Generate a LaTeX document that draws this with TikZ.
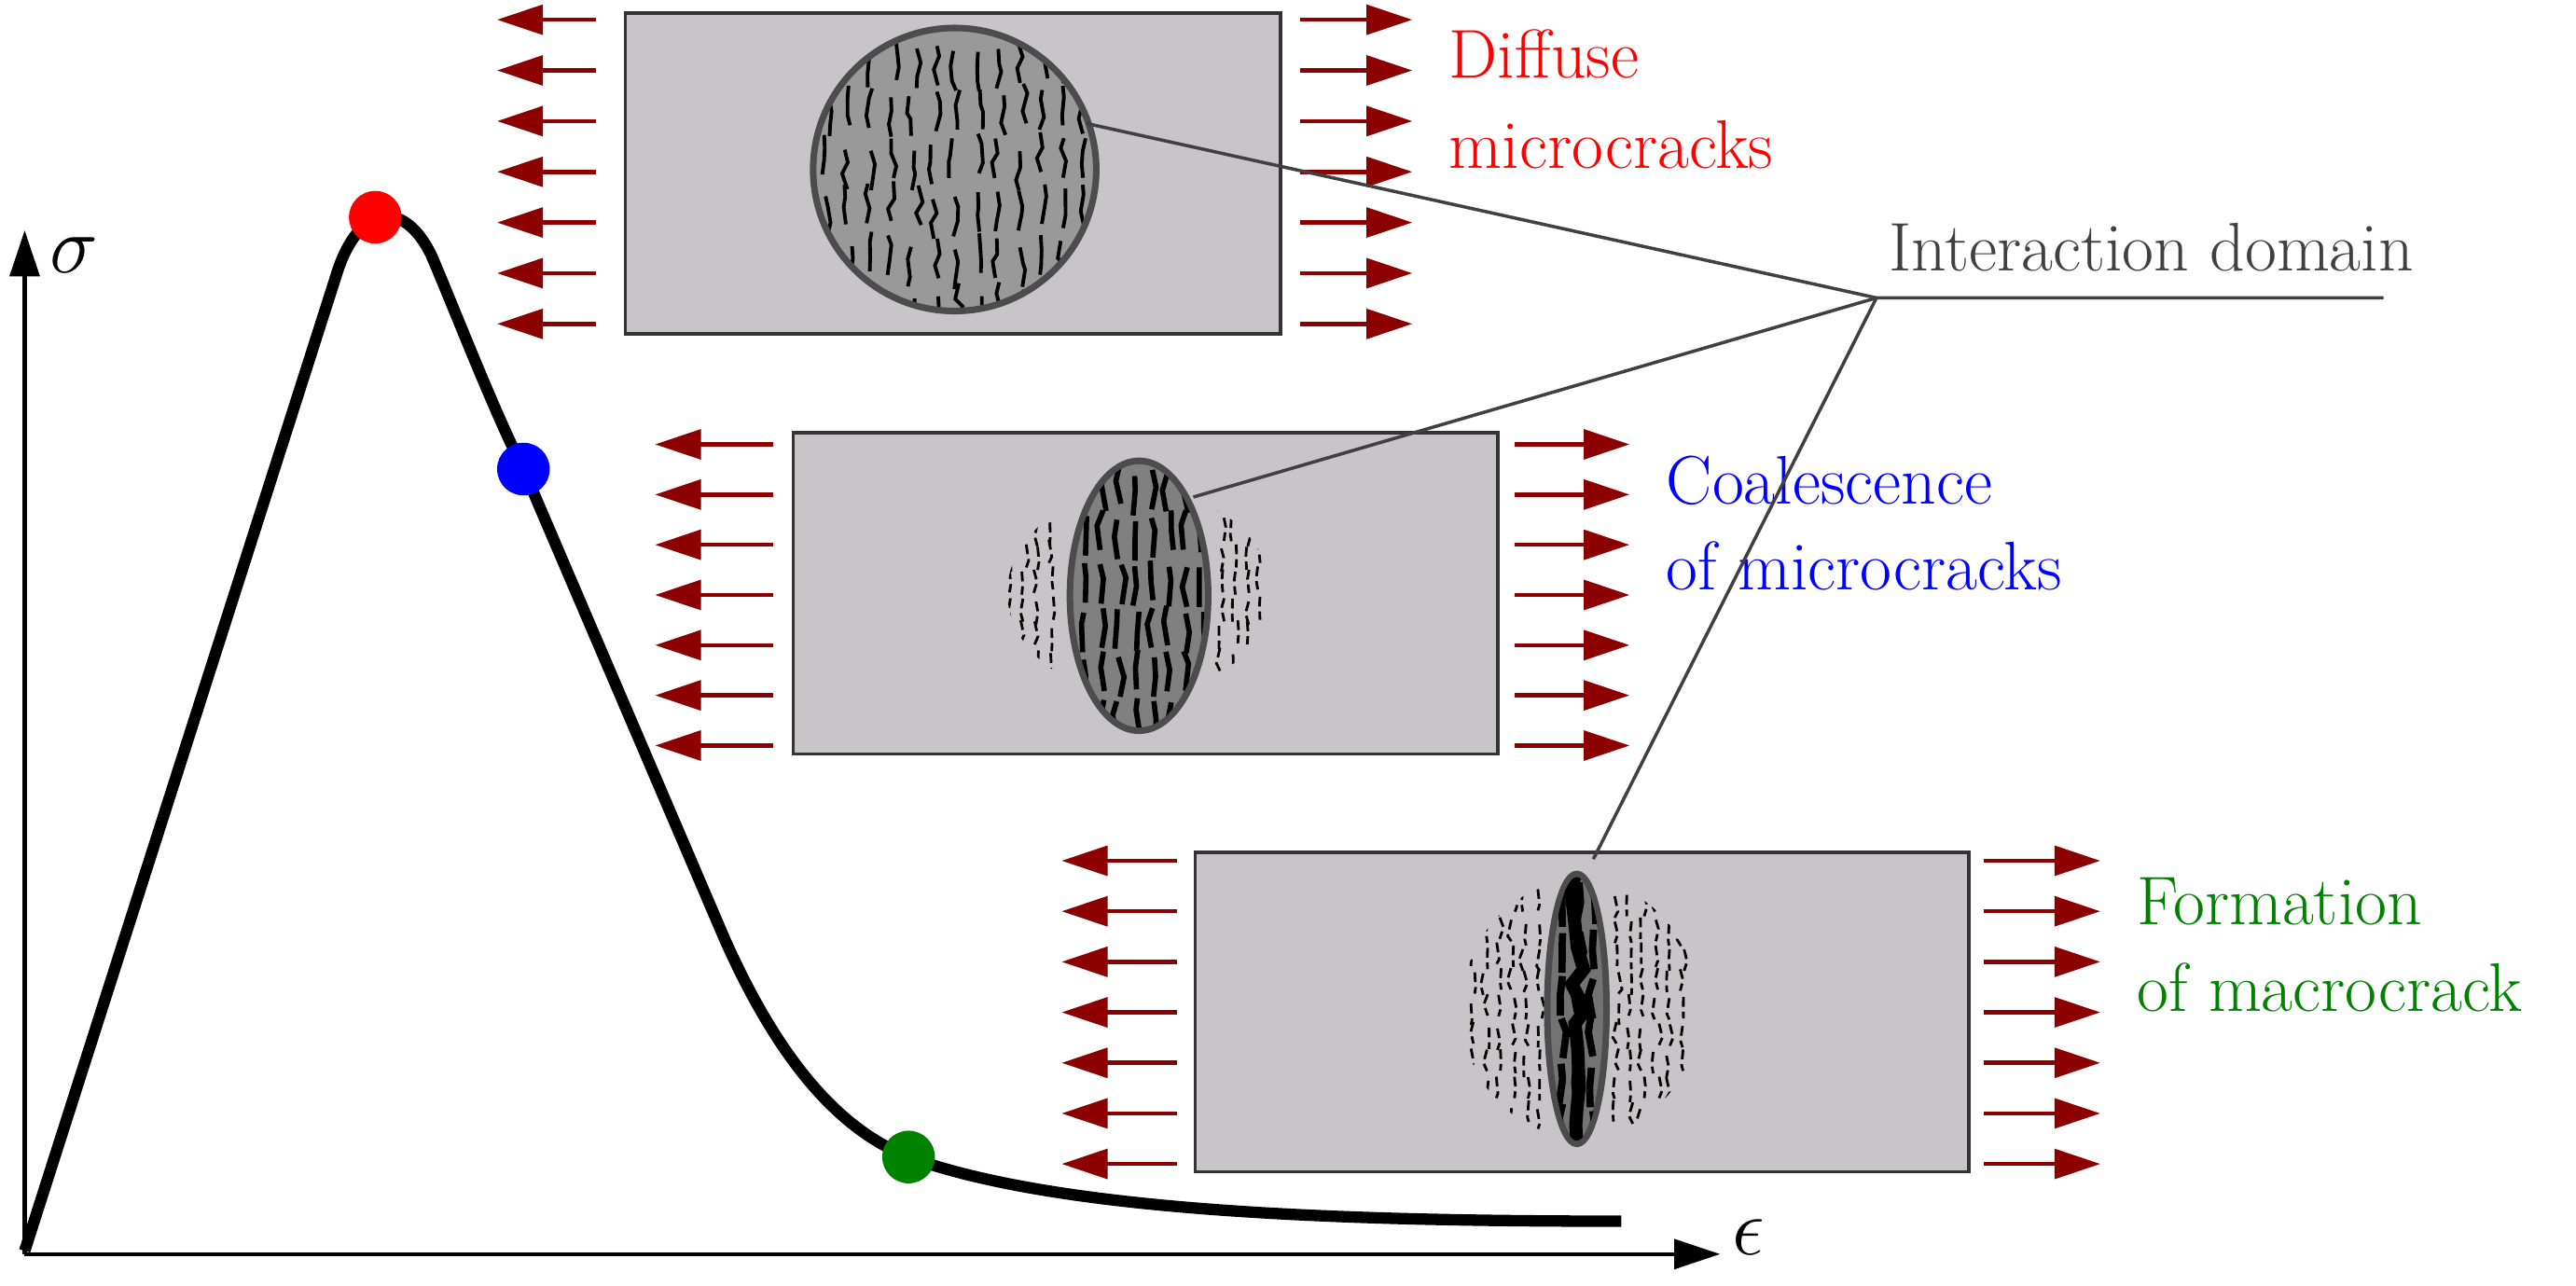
\documentclass[tikz,border=0pt]{standalone}
\usetikzlibrary{arrows.meta,decorations.pathmorphing}
\definecolor{boxgray}{RGB}{200,196,200}
\definecolor{arr}{RGB}{140,0,0}
\definecolor{dgreen}{RGB}{0,130,0}
\tikzset{
 x=0.01765cm,y=-0.01765cm,
 boxst/.style={draw=black!80,line width=1pt,fill=boxgray},
 ld/.style={arr,line width=1.3pt,-{Triangle[length=14pt,width=9pt]}},
 crack/.style={line width=1.6pt,decorate,decoration={random steps,segment length=5pt,amplitude=1.5pt}},
 dcrack/.style={line width=0.8pt,dashed,dash pattern=on 3pt off 1.5pt,decorate,decoration={random steps,segment length=4pt,amplitude=1.2pt}},
 lbl/.style={font=\fontsize{21}{24}\selectfont,anchor=west,inner sep=0},
 cline/.style={black!75,line width=1pt}
}
\begin{document}
\begin{tikzpicture}
\useasboundingbox (0,0) rectangle (1565,781);
\pgfmathsetseed{7}
% axes
\coordinate (O) at (15,762);
\coordinate (Y) at (15,140);
\coordinate (X) at (1045,762);
\draw[line width=1.2pt,-{Triangle[length=14pt,width=9pt]}] (O)--(Y);
\draw[line width=1.2pt,-{Triangle[length=14pt,width=9pt]}] (O)--(X);
\node[font=\fontsize{26}{28}\selectfont] (sig) at (45,155) {$\sigma$};
\node[font=\fontsize{26}{28}\selectfont] (eps) at (1062,752) {$\epsilon$};
% curve
\draw[line width=3.5pt] (15,760) -- (205,165) .. controls (218,125) and (245,120) .. (262,155)
 .. controls (275,185) and (300,250) .. (318,285)
 -- (440,570) .. controls (480,660) and (520,690) .. (552,703)
 .. controls (640,735) and (800,742) .. (985,742);
\fill[red] (228,132) circle (16);
\fill[blue] (318,285) circle (16);
\fill[dgreen] (552,703) circle (16);
% box 1
\draw[boxst] (380,8) rectangle (778,203);
\draw[black!70,line width=2pt,fill=black!40] (580,103) circle (86);
\begin{scope}
\clip (580,103) circle (84);
\foreach \i in {0,...,12}{
 \foreach \j in {0,...,5}{
  \pgfmathsetmacro\xx{500+\i*13+rnd*6}
  \pgfmathsetmacro\yy{20+\j*30+rnd*12}
  \draw[line width=1.1pt,decorate,decoration={random steps,segment length=4pt,amplitude=1.3pt}] (\xx,\yy) -- ++(rnd*4-2,24);
 }}
\end{scope}
\foreach \k in {0,...,6}{
 \pgfmathsetmacro\yy{12+\k*30.8}
 \draw[ld] (362,\yy) -- (302,\yy);
 \draw[ld] (790,\yy) -- (858,\yy);
}
% box 2
\draw[boxst] (482,263) rectangle (910,458);
\begin{scope}
\clip (692,360) ellipse (80 and 62);
\foreach \i in {0,...,3}{
 \foreach \j in {0,...,7}{
  \pgfmathsetmacro\xx{612+\i*8+rnd*4}
  \pgfmathsetmacro\yy{296+\j*16+rnd*6}
  \draw[dcrack] (\xx,\yy) -- ++(0,14);
  \pgfmathsetmacro\xx{740+\i*8+rnd*4}
  \draw[dcrack] (\xx,\yy) -- ++(0,14);
 }}
\end{scope}
\draw[black!70,line width=2pt,fill=black!50] (692,362) ellipse (42 and 82);
\begin{scope}
\clip (692,362) ellipse (40 and 80);
\foreach \i in {0,...,7}{
 \foreach \j in {0,...,5}{
  \pgfmathsetmacro\xx{658+\i*10+rnd*4}
  \pgfmathsetmacro\yy{282+\j*28+rnd*8}
  \draw[crack] (\xx,\yy) -- ++(rnd*4-2,24);
 }}
\end{scope}
\foreach \k in {0,...,6}{
 \pgfmathsetmacro\yy{270+\k*30.5}
 \draw[ld] (470,\yy) -- (398,\yy);
 \draw[ld] (920,\yy) -- (990,\yy);
}
% box 3
\draw[boxst] (726,518) rectangle (1196,712);
\begin{scope}
\clip (960,613) ellipse (72 and 78);
\foreach \i in {0,...,5}{
 \foreach \j in {0,...,8}{
  \pgfmathsetmacro\xx{893+\i*8+rnd*4}
  \pgfmathsetmacro\yy{540+\j*16+rnd*6}
  \draw[dcrack] (\xx,\yy) -- ++(0,13);
  \pgfmathsetmacro\xx{980+\i*8+rnd*4}
  \draw[dcrack] (\xx,\yy) -- ++(0,13);
 }}
\end{scope}
\draw[black!70,line width=2pt,fill=black!55] (958,613) ellipse (18 and 82);
\begin{scope}
\clip (958,613) ellipse (16 and 80);
\draw[line width=4pt,decorate,decoration={random steps,segment length=7pt,amplitude=3pt}] (958,530)--(958,700);
\foreach \i in {0,...,2}{
 \foreach \j in {0,...,5}{
  \pgfmathsetmacro\xx{948+\i*9+rnd*3}
  \pgfmathsetmacro\yy{535+\j*27+rnd*6}
  \draw[crack,line width=2.2pt] (\xx,\yy) -- ++(rnd*3-1.5,24);
 }}
\end{scope}
\foreach \k in {0,...,6}{
 \pgfmathsetmacro\yy{523+\k*30.7}
 \draw[ld] (715,\yy) -- (645,\yy);
 \draw[ld] (1205,\yy) -- (1276,\yy);
}
% labels
\node[lbl,red] (d1) at (880,33) {Diffuse};
\node[lbl,red] (d2) at (880,88) {microcracks};
\node[lbl,blue] (c1) at (1012,292) {Coalescence};
\node[lbl,blue] (c2) at (1012,344) {of microcracks};
\node[lbl,dgreen] (f1) at (1298,548) {Formation};
\node[lbl,dgreen] (f2) at (1298,600) {of macrocrack};
\node[lbl,black!75] (id) at (1147,150) {Interaction domain};
\coordinate (hub) at (1140,181);
\coordinate (hubR) at (1448,181);
\coordinate (p1) at (660,75);
\coordinate (p2) at (725,302);
\coordinate (p3) at (968,522);
\draw[cline] (hubR)--(hub)--(p1);
\draw[cline] (hub)--(p2);
\draw[cline] (hub)--(p3);
\end{tikzpicture}
\end{document}
